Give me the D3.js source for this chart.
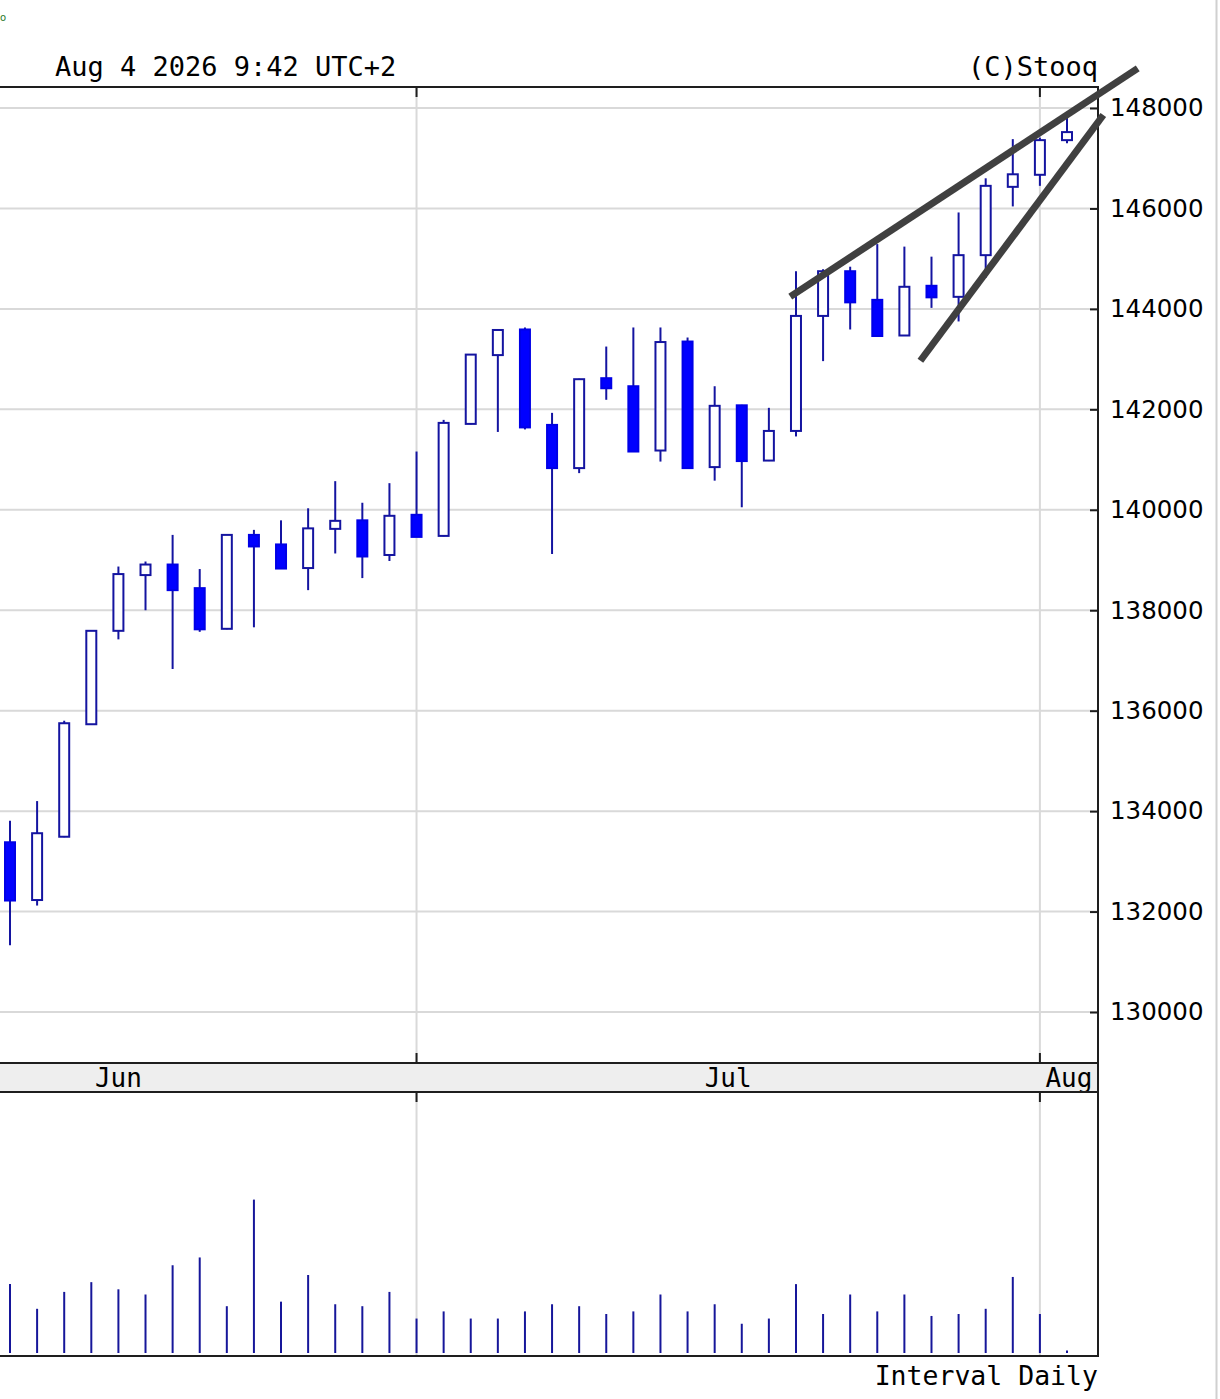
<!DOCTYPE html>
<html>
<head>
<meta charset="utf-8">
<script src="https://cdn.jsdelivr.net/npm/d3@7"></script>
<style>
  html, body { margin: 0; padding: 0; background: #fff; }
  svg { display: block; }
</style>
</head>
<body>
<svg id="chart" width="1220" height="1399"></svg>
<script>
// ---- data (trading days, Jun 10 .. Aug 4 2026) ----
const dates = ["2026-06-10","2026-06-11","2026-06-12","2026-06-15","2026-06-16","2026-06-17","2026-06-18","2026-06-19",
  "2026-06-22","2026-06-23","2026-06-24","2026-06-25","2026-06-26","2026-06-29","2026-06-30",
  "2026-07-01","2026-07-02","2026-07-03","2026-07-06","2026-07-07","2026-07-08","2026-07-09","2026-07-10",
  "2026-07-13","2026-07-14","2026-07-15","2026-07-16","2026-07-17","2026-07-20","2026-07-21","2026-07-22",
  "2026-07-23","2026-07-24","2026-07-27","2026-07-28","2026-07-29","2026-07-30","2026-07-31",
  "2026-08-03","2026-08-04"];
const open  = [133380,132230,133490,135730,137590,138700,138910,138440,137630,139500,139310,138840,139620,139790,139100,
  139900,139480,141710,143080,143590,141690,140830,142620,142460,141180,143350,140850,142080,140980,141570,143860,
  144750,144180,143470,144460,144240,145070,146430,146670,147360];
const high  = [133810,134200,135800,137600,138870,138970,139500,138820,139500,139600,139790,140030,140570,140140,140530,
  141160,141790,143100,143590,143630,141930,142610,143250,143630,143630,143430,142460,142090,142030,144750,144790,
  144840,145290,145240,145040,145920,146600,147380,147410,147820];
const low   = [131330,132120,133480,135720,137420,138000,136830,137570,137620,137660,138830,138400,139130,138640,138980,
  139460,139470,141700,141550,141600,139120,140730,142190,141150,140960,140830,140580,140050,140970,141460,142960,
  143590,143460,143460,144020,143750,144620,146040,146450,147300];
const close = [132220,133560,135750,137590,138720,138910,138400,137620,139500,139270,138830,139630,139780,139070,139880,
  139460,141730,143090,143580,141640,140830,142600,142420,141160,143340,140830,142070,140970,141570,143860,144750,
  144130,143460,144440,144230,145070,146450,146680,147360,147520];
const volume = [10.6,6.8,9.4,10.9,9.8,9.0,13.5,14.7,7.2,23.6,7.9,12.0,7.5,7.2,9.4,
  5.3,6.4,5.3,5.3,6.4,7.5,7.2,6.0,6.4,9.0,6.4,7.5,4.5,5.3,10.6,6.0,
  9.0,6.4,9.0,5.7,6.0,6.8,11.7,6.0,0.4];
const priceTicks = [130000,132000,134000,136000,138000,140000,142000,144000,146000,148000];
// month starts as trading-day index relative to Jun 10 (Jun 1 lies off the left edge)
const monthLabels = ["Jun","Jul","Aug"];
const monthStartIdx = [-7, 15, 38];
// trend lines: [index, price] endpoints
const trendUpper = [[28.79,144243],[41.61,148790]];
const trendLower = [[33.59,142968],[40.34,147861]];
const headerLeft = "Aug 4 2026 9:42 UTC+2";
const headerRight = "(C)Stooq";
const footer = "Interval Daily";

// ---- layout ----
const svg = d3.select("#chart");
const W = 1220, H = 1399;
const plotLeft = 0, plotRight = 1098;
const pTop = 87, pBot = 1063, bandBot = 1092, vBot = 1356;

const x = d3.scaleLinear().domain([0, 39]).range([10, 1067]);
const y = d3.scaleLinear().domain([128985, 148418]).range([pBot, pTop]);
const yv = d3.scaleLinear().domain([0, 40]).range([1353, 1093]);

const mono = "'DejaVu Sans Mono', monospace";
const sans = "'DejaVu Sans', sans-serif";
const gridC = "#d9d9d9";
const axisC = "#1e1e1e";
const outlineC = "#1414a0";
const fillC = "#0000ff";

// page edge line at right
svg.append("line").attr("x1",1216.5).attr("x2",1216.5).attr("y1",0).attr("y2",H)
  .attr("stroke","#d0d0d0").attr("stroke-width",2);

// small green mark top-left
svg.append("text").attr("x",0).attr("y",21).attr("font-family",sans).attr("font-size",10)
  .attr("fill","#2a7a2a").text("o");

// band
svg.append("rect").attr("x",plotLeft).attr("y",pBot).attr("width",plotRight-plotLeft).attr("height",bandBot-pBot)
  .attr("fill","#eeeeee");

const gridIdx = monthStartIdx.filter(i => i >= 0);

// horizontal grid
svg.append("g").selectAll("line").data(priceTicks).join("line")
  .attr("x1",plotLeft).attr("x2",plotRight).attr("y1",d=>y(d)).attr("y2",d=>y(d))
  .attr("stroke",gridC).attr("stroke-width",2);

// vertical grid in price and volume panels
svg.append("g").selectAll("line").data(gridIdx).join("line")
  .attr("x1",d=>x(d)).attr("x2",d=>x(d)).attr("y1",pTop).attr("y2",pBot)
  .attr("stroke",gridC).attr("stroke-width",2);
svg.append("g").selectAll("line").data(gridIdx).join("line")
  .attr("x1",d=>x(d)).attr("x2",d=>x(d)).attr("y1",bandBot).attr("y2",vBot)
  .attr("stroke",gridC).attr("stroke-width",2);

// month tick marks
const tk = svg.append("g").attr("stroke",axisC).attr("stroke-width",2);
gridIdx.forEach(i => {
  const xx = x(i);
  tk.append("line").attr("x1",xx).attr("x2",xx).attr("y1",pTop).attr("y2",pTop+10);
  tk.append("line").attr("x1",xx).attr("x2",xx).attr("y1",pBot-10).attr("y2",pBot);
  tk.append("line").attr("x1",xx).attr("x2",xx).attr("y1",bandBot).attr("y2",bandBot+10);
});

// month labels centered on month span
const spans = monthStartIdx.map((s,k) => {
  const a = x(s);
  const b = k < monthStartIdx.length-1 ? x(monthStartIdx[k+1]) : plotRight;
  return {label: monthLabels[k], cx: (a+b)/2};
});
svg.append("g").selectAll("text").data(spans).join("text")
  .attr("x",d=>d.cx).attr("y",1087).attr("text-anchor","middle")
  .attr("font-family",mono).attr("font-size",26).attr("fill","#000").text(d=>d.label);

// volume bars
svg.append("g").selectAll("line").data(volume).join("line")
  .attr("x1",(d,i)=>x(i)).attr("x2",(d,i)=>x(i))
  .attr("y1",yv(0)).attr("y2",d=>yv(d))
  .attr("stroke","#16169a").attr("stroke-width",2);

// candles
const candles = dates.map((d,i)=>({i, o:open[i], h:high[i], l:low[i], c:close[i]}));
const cg = svg.append("g");
cg.selectAll("line").data(candles).join("line")
  .attr("x1",d=>x(d.i)).attr("x2",d=>x(d.i))
  .attr("y1",d=>y(d.h)).attr("y2",d=>y(d.l))
  .attr("stroke",outlineC).attr("stroke-width",2);
cg.selectAll("rect").data(candles).join("rect")
  .attr("x",d=>x(d.i)-5).attr("width",10)
  .attr("y",d=>y(Math.max(d.o,d.c)))
  .attr("height",d=>Math.max(1, y(Math.min(d.o,d.c)) - y(Math.max(d.o,d.c))))
  .attr("fill",d=> d.c >= d.o ? "#ffffff" : fillC)
  .attr("stroke",d=> d.c >= d.o ? outlineC : "#0000e6")
  .attr("stroke-width",2);

// frame lines
const fr = svg.append("g").attr("stroke",axisC).attr("stroke-width",2).attr("fill","none");
fr.append("line").attr("x1",plotLeft).attr("x2",plotRight+1).attr("y1",pTop).attr("y2",pTop);
fr.append("line").attr("x1",plotLeft).attr("x2",plotRight+1).attr("y1",pBot).attr("y2",pBot);
fr.append("line").attr("x1",plotLeft).attr("x2",plotRight+1).attr("y1",bandBot).attr("y2",bandBot);
fr.append("line").attr("x1",plotLeft).attr("x2",plotRight+1).attr("y1",vBot).attr("y2",vBot);
fr.append("line").attr("x1",plotRight).attr("x2",plotRight).attr("y1",pTop).attr("y2",vBot);

// right price axis
const axis = d3.axisRight(y).tickValues(priceTicks).tickSize(-8).tickPadding(12).tickFormat(d3.format("d"));
const ag = svg.append("g").attr("transform",`translate(${plotRight},0)`).call(axis);
ag.select(".domain").remove();
ag.selectAll(".tick line").attr("stroke",axisC).attr("stroke-width",2);
ag.selectAll(".tick text").attr("font-family",sans).attr("font-size",24.5).attr("fill","#000");

// trend lines
const tl = svg.append("g").attr("stroke","#404040").attr("stroke-width",7).attr("stroke-linecap","butt");
[trendUpper, trendLower].forEach(t => {
  tl.append("line").attr("x1",x(t[0][0])).attr("y1",y(t[0][1])).attr("x2",x(t[1][0])).attr("y2",y(t[1][1]));
});

// header/footer text
svg.append("text").attr("x",55).attr("y",76).attr("font-family",mono).attr("font-size",27)
  .attr("fill","#000").text(headerLeft);
svg.append("text").attr("x",plotRight).attr("y",76).attr("text-anchor","end").attr("font-family",mono).attr("font-size",27)
  .attr("fill","#000").text(headerRight);
svg.append("text").attr("x",plotRight).attr("y",1385).attr("text-anchor","end").attr("font-family",mono).attr("font-size",26.5)
  .attr("fill","#000").text(footer);
</script>
</body>
</html>
